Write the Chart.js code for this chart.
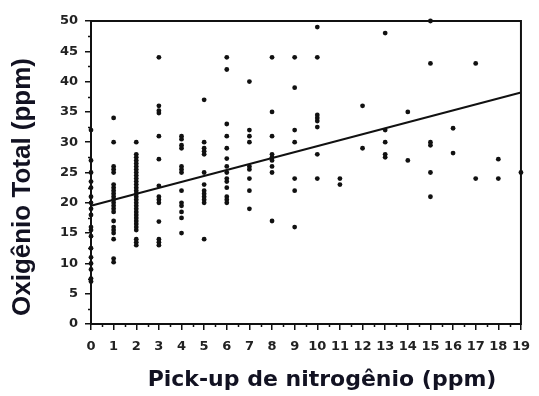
<!DOCTYPE html>
<html>
<head>
<meta charset="utf-8">
<script src="https://cdn.jsdelivr.net/npm/chart.js@4/dist/chart.umd.min.js"></script>
<style>
  html, body { margin: 0; padding: 0; background: #fff; }
  canvas { display: block; }
</style>
</head>
<body>
<canvas id="chart" width="539" height="396"></canvas>
<script>
// nitrogen pick-up levels (ppm) and oxygen readings (ppm) per level
const pickup = [0, 1, 2, 3, 4, 5, 6, 7, 8, 9, 10, 11, 12, 13, 14, 15, 16, 17, 18, 19];
const oxy0 = [32, 27, 25, 23.5, 22.5, 21, 20, 19, 18, 16, 15.5, 14.5, 12.5, 11, 10, 9, 7.5, 7];
const oxy1 = [34, 30, 26, 25.5, 25, 23, 22.5, 22, 21.5, 21, 20.5, 20, 19.5, 19, 18.5, 17, 16, 15.5, 15, 14, 10.8, 10.2];
const oxy2 = [30, 28, 27.5, 27, 26.5, 26, 25.5, 25, 24.5, 24, 23.5, 23, 22.5, 22, 21.5, 21, 20.5, 20, 19.5, 19, 18.5, 18, 17.5, 17, 16.5, 16, 15.5, 14, 13.5, 13];
const oxy3 = [44, 36, 35.2, 34.8, 31, 27.2, 22.8, 21, 20.5, 20, 16.9, 14, 13.5, 13];
const oxy4 = [31, 30.5, 29.5, 29, 26, 25.5, 25, 22, 20, 19.5, 18.5, 17.5, 15];
const oxy5 = [37, 30, 29, 28.5, 28, 25, 23, 22, 21.5, 21, 20.5, 20, 14];
const oxy6 = [44, 42, 33, 31, 29, 27.3, 26, 25, 24, 23.5, 22.5, 21, 20.5, 20];
const oxy7 = [40, 32, 31, 30, 26, 25.5, 24, 22, 19];
const oxy8 = [44, 35, 31, 28, 27.5, 27, 26, 25, 17];
const oxy9 = [44, 39, 32, 30, 24, 22, 16];
const oxy10 = [49, 44, 34.5, 34, 33.5, 32.5, 28, 24];
const oxy11 = [24, 23];
const oxy12 = [36, 29];
const oxy13 = [48, 32, 30, 28, 27.5];
const oxy14 = [35, 27];
const oxy15 = [50, 43, 30, 29.5, 25, 21];
const oxy16 = [32.3, 28.2];
const oxy17 = [43, 24];
const oxy18 = [27.2, 24];
const oxy19 = [25];
const oxyColumns = [oxy0, oxy1, oxy2, oxy3, oxy4, oxy5, oxy6, oxy7, oxy8, oxy9,
  oxy10, oxy11, oxy12, oxy13, oxy14, oxy15, oxy16, oxy17, oxy18, oxy19];

// fitted regression line
const fitX = [0, 19];
const fitY = [19.5, 38.2];

const xTitle = 'Pick-up de nitrogênio (ppm)';
const yTitle = 'Oxigênio Total (ppm)';

const points = [];
pickup.forEach((n, i) => oxyColumns[i].forEach(v => points.push({ x: n, y: v })));
const fitLine = fitX.map((x, i) => ({ x, y: fitY[i] }));

// frame, minor ticks and axis titles
const framePlugin = {
  id: 'frame',
  afterDraw(chart) {
    const { ctx, chartArea: a, scales: { x, y } } = chart;
    ctx.save();
    ctx.strokeStyle = '#111';
    ctx.lineWidth = 1.5;
    ctx.beginPath();
    for (let v = 2.5; v < 50; v += 5) {
      const py = Math.round(y.getPixelForValue(v)) + 0.5;
      ctx.moveTo(a.left - 3, py); ctx.lineTo(a.left, py);
    }
    for (let v = 0.5; v < 19; v += 1) {
      const px = Math.round(x.getPixelForValue(v)) + 0.5;
      ctx.moveTo(px, a.bottom); ctx.lineTo(px, a.bottom + 3);
    }
    ctx.stroke();
    ctx.lineWidth = 2;
    ctx.strokeRect(a.left, a.top, a.right - a.left, a.bottom - a.top);

    ctx.fillStyle = '#121222';
    ctx.textAlign = 'center';
    ctx.textBaseline = 'middle';
    ctx.font = 'bold 22px "DejaVu Sans"';
    ctx.fillText(xTitle, 322, 380);
    ctx.translate(23, 187);
    ctx.rotate(-Math.PI / 2);
    ctx.font = 'bold 26px "Liberation Sans"';
    ctx.fillText(yTitle, 0, 0);
    ctx.restore();
  }
};

new Chart(document.getElementById('chart'), {
  type: 'scatter',
  data: {
    datasets: [
      {
        data: points,
        backgroundColor: '#111',
        borderColor: '#111',
        pointRadius: 2.4,
        borderWidth: 0,
        clip: false
      },
      {
        type: 'line',
        data: fitLine,
        borderColor: '#111',
        borderWidth: 2,
        pointRadius: 0,
        fill: false,
        clip: false
      }
    ]
  },
  options: {
    responsive: false,
    devicePixelRatio: 1,
    animation: false,
    events: [],
    layout: { padding: { top: 21, right: 6, left: 0, bottom: 0 } },
    plugins: { legend: { display: false }, tooltip: { enabled: false } },
    scales: {
      x: {
        type: 'linear',
        min: 0,
        max: 19,
        afterFit: s => { s.height = 72; },
        border: { display: false },
        grid: { drawOnChartArea: false, tickLength: 6, color: '#111', lineWidth: 1.5 },
        ticks: {
          stepSize: 1,
          autoSkip: false,
          maxRotation: 0,
          padding: 9,
          color: '#222',
          font: { family: 'DejaVu Sans', weight: 'bold', size: 13 }
        }
      },
      y: {
        min: 0,
        max: 50,
        afterFit: s => { s.width = 91; },
        border: { display: false },
        grid: { drawOnChartArea: false, tickLength: 6, color: '#111', lineWidth: 1.5 },
        ticks: {
          stepSize: 5,
          padding: 7,
          color: '#222',
          font: { family: 'DejaVu Sans', weight: 'bold', size: 13 }
        }
      }
    }
  },
  plugins: [framePlugin]
});
</script>
</body>
</html>
